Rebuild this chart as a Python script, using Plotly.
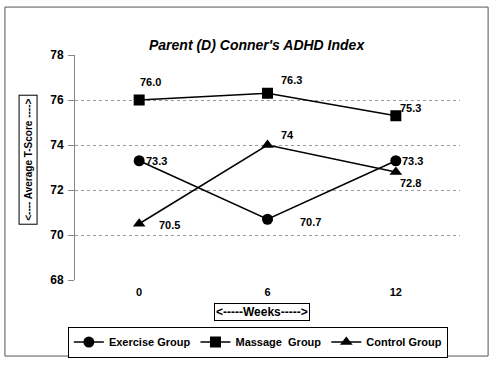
import plotly.graph_objects as go

weeks = ["0", "6", "12"]
exercise = [73.3, 70.7, 73.3]
massage = [76.0, 76.3, 75.3]
control = [70.5, 74.0, 72.8]
exercise_labels = ["73.3", "70.7", "73.3"]
massage_labels = ["76.0", "76.3", "75.3"]
control_labels = ["70.5", "74", "72.8"]
y_ticks = [68, 70, 72, 74, 76, 78]

FONT = "Liberation Sans, Arial, sans-serif"

fig = go.Figure()
series = [
    ("Exercise Group", exercise, "circle"),
    ("Massage  Group", massage, "square"),
    ("Control Group", control, "triangle-up"),
]
for name, vals, sym in series:
    fig.add_trace(go.Scatter(
        x=weeks, y=vals, mode="lines+markers", name=name,
        line=dict(color="black", width=1.5),
        marker=dict(symbol=sym, size=11, color="black"),
    ))

# data labels: (values, labels, per-point pixel offsets)
label_specs = [
    (massage, massage_labels, [(11, 18), (24, 13), (15, 8)]),
    (exercise, exercise_labels, [(17, 0), (43, -3), (17, 0)]),
    (control, control_labels, [(30, -1), (20, 10), (15, -11)]),
]
for vals, labs, offs in label_specs:
    for i, (yv, lab, (dx, dy)) in enumerate(zip(vals, labs, offs)):
        fig.add_annotation(x=i, y=yv, text=lab, showarrow=False,
                           xshift=dx, yshift=dy,
                           font=dict(family=FONT, size=11, color="black", weight="bold"))

fig.add_annotation(text="<i><b>Parent (D) Conner's ADHD Index</b></i>",
                   xref="paper", yref="paper", x=0.473, y=1.044,
                   xanchor="center", yanchor="middle", showarrow=False,
                   font=dict(family=FONT, size=14, color="black"))
fig.add_annotation(text="<b>&lt;---- Average T-Score ----&gt;</b>", textangle=-90,
                   xref="paper", yref="paper", x=-0.123, y=0.533,
                   xanchor="center", yanchor="middle", showarrow=False,
                   font=dict(family=FONT, size=10, color="black"),
                   bordercolor="black", borderwidth=1, borderpad=3, bgcolor="white")
fig.add_annotation(text="<b>&lt;-----Weeks-----&gt;</b>",
                   xref="paper", yref="paper", x=0.486, y=-0.142,
                   xanchor="center", yanchor="middle", showarrow=False,
                   font=dict(family=FONT, size=12, color="black"),
                   bordercolor="black", borderwidth=1, borderpad=1, bgcolor="white")

fig.add_shape(type="rect", xref="paper", yref="paper",
              x0=-0.182, x1=1.073, y0=-0.338, y1=1.213,
              line=dict(color="#555", width=1))

fig.update_layout(
    width=494, height=370,
    margin=dict(l=75, r=34, t=55, b=90, autoexpand=False),
    paper_bgcolor="white", plot_bgcolor="white",
    font=dict(family=FONT, color="black"),
    showlegend=True,
    legend=dict(orientation="h", xanchor="center", yanchor="middle",
                x=0.475, y=-0.276, bordercolor="black", borderwidth=1,
                font=dict(family=FONT, size=11, color="black", weight="bold"),
                itemwidth=30, tracegroupgap=0, bgcolor="white"),
    xaxis=dict(type="category", range=[-0.5, 2.5], showgrid=False, showline=False,
               ticks="", ticklabelstandoff=4,
               tickfont=dict(size=11, weight="bold"), zeroline=False),
    yaxis=dict(range=[68, 78], tickvals=y_ticks, showgrid=True,
               gridcolor="#999", griddash="dot", gridwidth=1,
               showline=True, linecolor="#888", ticks="outside", ticklen=6, tickcolor="#888",
               ticklabelstandoff=2,
               tickfont=dict(size=12, weight="bold"), zeroline=False),
)

fig.write_html("out.html", config={"displayModeBar": False},
               post_script="document.body.style.margin='0';document.body.style.overflow='hidden';")
